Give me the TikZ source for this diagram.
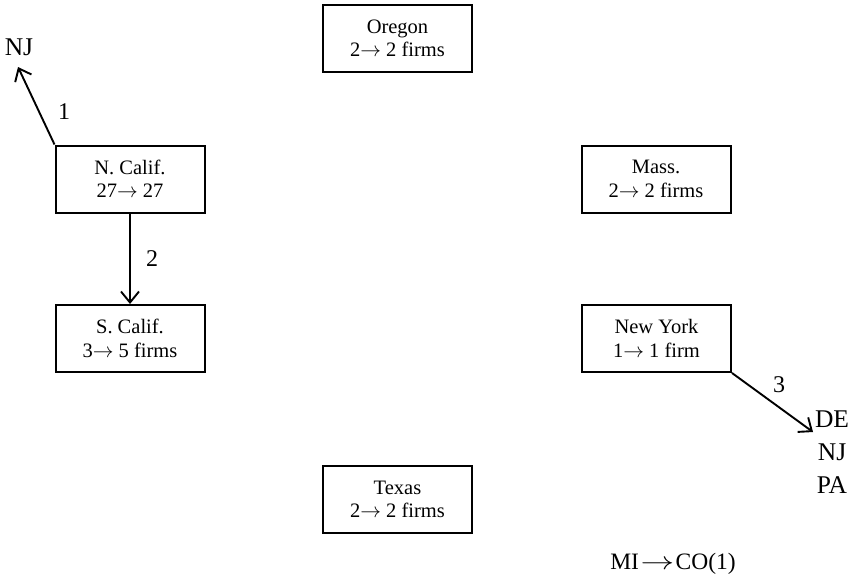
\documentclass[tikz,border=0pt]{standalone}
\usepackage{fontspec}
\usepackage{graphicx}
\setmainfont{Liberation Serif}
\usetikzlibrary{arrows.meta}
\newcommand{\goesto}{\ensuremath{\rightarrow}}
\newcommand{\widegoesto}{\kern1.5pt\scalebox{1.35}[1]{\ensuremath{\rightarrow}}\kern1.5pt}
\tikzset{
  region/.style={draw, line width=2pt, minimum width=149pt, minimum height=67pt,
    inner sep=0pt, align=center, font=\fontsize{20.5}{23.5}\selectfont},
  flow/.style={line width=1.9pt, -{Straight Barb[length=11pt,width=18pt,line width=1.9pt]}},
  state/.style={inner sep=0pt, font=\fontsize{25.5}{33}\selectfont, align=center},
  count/.style={inner sep=0pt, font=\fontsize{24}{26}\selectfont}
}
\begin{document}
\begin{tikzpicture}[x=1pt,y=-1pt]
  \useasboundingbox (0,0) rectangle (858,587);
  % state boxes
  \node[region] (or) at (397.5,38.5) {Oregon\\2\goesto\ 2 firms};
  \node[region] (nc) at (130,179) {N. Calif.\\27\goesto\ 27};
  \node[region] (sc) at (130,338.5) {S. Calif.\\3\goesto\ 5 firms};
  \node[region] (ma) at (656,179) {Mass.\\2\goesto\ 2 firms};
  \node[region] (ny) at (656.5,338.5) {New York\\1\goesto\ 1 firm};
  \node[region] (tx) at (397.5,499.5) {Texas\\2\goesto\ 2 firms};
  % destinations outside the boxes
  \node[state] (nj) at (19,47) {NJ};
  \node[state] (dest) at (832,452) {DE\\NJ\\PA};
  \node[state, font=\fontsize{23.5}{26}\selectfont] (mico) at (673,564) {MI\widegoesto CO(1)};
  \coordinate (njtip) at (18,67);
  \coordinate (detip) at (813,432);
  % moves
  \draw[flow] (nc.north west) -- (njtip);
  \draw[flow] (nc.south) -- (sc.north);
  \draw[flow] (ny.south east) -- (detip);
  \node[count] (c1) at (64,112) {1};
  \node[count] (c2) at (152,259) {2};
  \node[count] (c3) at (779,385) {3};
\end{tikzpicture}
\end{document}
